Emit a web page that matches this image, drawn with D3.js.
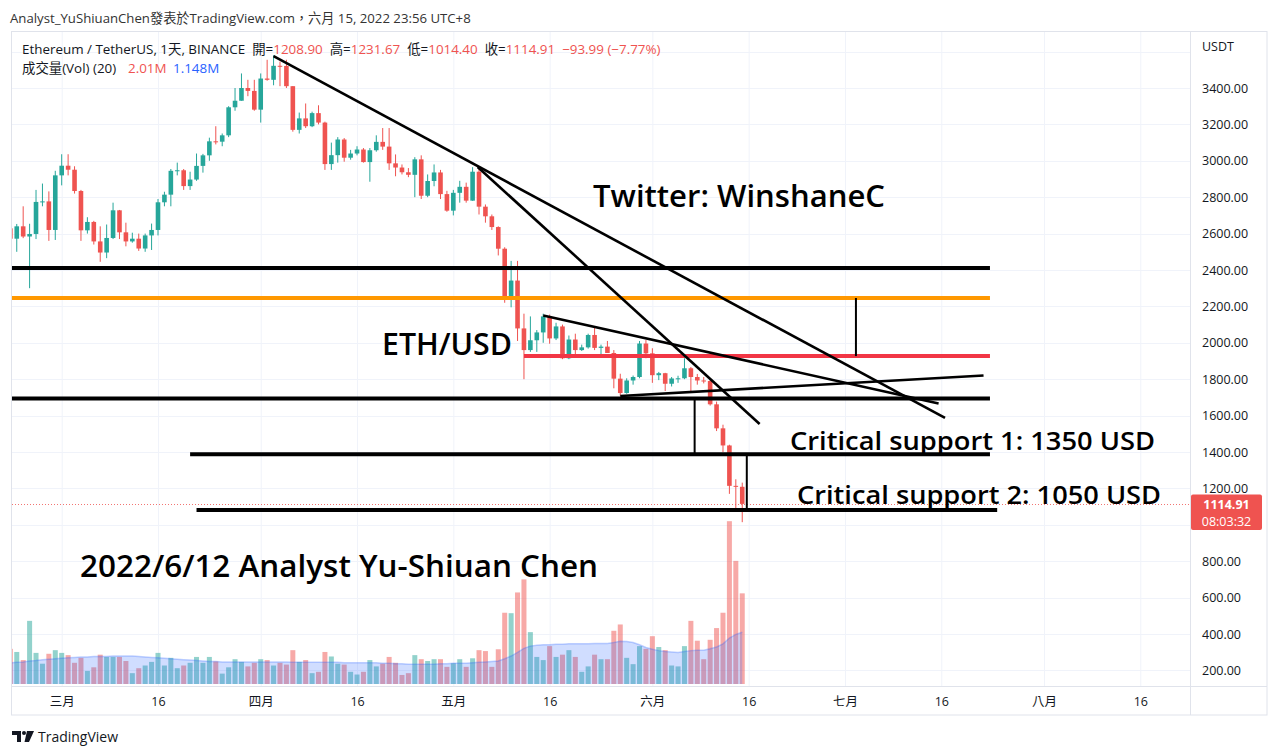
<!DOCTYPE html>
<html><head><meta charset="utf-8">
<script src="https://cdn.jsdelivr.net/npm/d3@7"></script>
<style>
html,body{margin:0;padding:0;background:#fff;}
svg{display:block;}
text{font-family:"Open Sans","Noto Sans","Noto Sans CJK TC",sans-serif;}
</style></head><body>
<svg id="chart" width="1280" height="756"></svg>
<script>
// ---------- DATA ----------
const firstDay = "2022-02-21";
const lastDay = "2022-06-15";
const opens = [2629,2572,2640,2584,2598,2774,2777,2620,
 2920,2973,2951,2834,2618,2664,2557,2496,2576,2728,
 2607,2557,2572,2518,2590,2620,2772,2814,2945,2948,
 2861,2897,2972,3030,3107,3105,3140,3294,3330,3400,3384,
 3281,3452,3445,3522,3521,3410,3170,3233,3190,3262,
 3210,2982,3031,3117,3017,3040,3062,2993,3058,3104,
 3078,2986,2963,2937,2923,3008,2808,2889,2936,2817,
 2726,2824,2857,2781,2940,2748,2695,2636,2517,2245,
 2342,2079,1960,2014,2057,2145,2024,2090,1915,2018,
 1960,1975,2043,1972,1979,1944,1803,1724,1793,1812,1996,
 1942,1822,1833,1775,1804,1805,1860,1812,1793,1790,1662,1530,1436,1214,1208.9];
const highs = [2760,2653,2750,2654,2840,2875,2832,2945,
 3036,3036,2970,2840,2690,2670,2640,2650,2770,2730,
 2660,2605,2600,2600,2655,2790,2830,2955,2990,2955,
 2940,3040,3038,3127,3190,3150,3300,3400,3480,3445,3445,
 3480,3555,3580,3545,3555,3410,3265,3315,3270,3305,
 3215,3100,3130,3125,3060,3080,3070,3070,3140,3180,
 3180,3035,2980,2960,3020,3030,2925,2980,2950,2835,
 2840,2890,2880,2965,2955,2760,2705,2640,2525,2450,
 2450,2160,2145,2070,2160,2155,2110,2100,2040,2050,
 1990,2050,2085,1990,2010,1960,1830,1805,1820,2010,2015,
 1970,1840,1835,1812,1819,1915,1867,1829,1812,1800,1677,1550,1440,1250,1231.67];
const lows = [2570,2500,2575,2300,2570,2750,2560,2565,
 2865,2920,2820,2560,2600,2540,2445,2465,2570,2570,
 2530,2550,2505,2500,2510,2590,2750,2750,2920,2840,
 2840,2890,2935,3000,3090,3080,3130,3275,3330,3355,3275,
 3210,3440,3415,3410,3400,3160,3150,3180,3185,3200,
 2950,2950,2990,2995,3006,3030,2990,2885,3050,3060,
 2950,2915,2925,2910,2800,2790,2800,2860,2790,2720,
 2700,2770,2770,2780,2705,2660,2620,2480,2220,2195,
 2010,1800,1950,1950,2000,1995,2015,1910,1910,1930,
 1955,1968,1960,1925,1945,1750,1710,1720,1770,1805,1915,
 1780,1795,1735,1760,1780,1800,1733,1770,1777,1655,1515,1400,1170,1075,1014.4];
const closes = [2572,2640,2584,2598,2774,2777,2620,2920,
 2973,2951,2834,2618,2664,2557,2496,2576,2728,2607,
 2557,2572,2518,2590,2620,2772,2814,2945,2948,2861,
 2897,2972,3030,3107,3105,3140,3294,3330,3400,3384,3281,
 3452,3445,3522,3521,3410,3170,3233,3190,3262,3210,
 2982,3031,3117,3017,3040,3062,2993,3058,3104,3078,
 2986,2963,2937,2923,3008,2808,2889,2936,2817,2726,
 2824,2857,2781,2940,2748,2695,2636,2517,2245,2342,
 2079,1960,2014,2057,2145,2024,2090,1915,2018,1960,
 1975,2043,1972,1979,1944,1803,1724,1793,1812,1996,1942,
 1822,1833,1775,1804,1805,1860,1812,1793,1790,1662,1530,1436,1214,1208.9,1114.91];
// volume in millions
const volumes = [0.78,0.71,0.53,1.40,0.69,0.45,0.67,0.75,
 0.69,0.64,0.47,0.58,0.29,0.37,0.65,0.60,0.60,0.60,
 0.51,0.24,0.35,0.41,0.49,0.69,0.41,0.58,0.35,0.41,
 0.47,0.60,0.47,0.60,0.50,0.23,0.37,0.55,0.49,0.39,0.47,
 0.55,0.53,0.41,0.47,0.43,0.75,0.49,0.53,0.24,0.27,
 0.71,0.61,0.45,0.43,0.27,0.21,0.27,0.53,0.39,0.45,
 0.60,0.47,0.20,0.24,0.64,0.55,0.51,0.55,0.55,0.38,
 0.46,0.55,0.38,0.57,0.75,0.73,0.38,0.77,1.58,1.57,
 2.03,2.32,1.15,0.60,0.53,0.84,0.60,0.65,0.75,0.60,
 0.27,0.39,0.65,0.55,0.55,1.18,1.32,0.58,0.44,0.84,0.78,
 1.06,0.82,0.75,0.41,0.39,0.84,1.40,0.96,0.55,0.98,1.24,1.58,3.61,2.73,2.01];
// 20-day volume MA (millions)
const volumeMA = [0.47,0.48,0.49,0.51,0.52,0.54,0.55,0.56,
 0.57,0.58,0.59,0.60,0.60,0.61,0.61,0.61,0.62,0.62,
 0.62,0.62,0.61,0.60,0.59,0.58,0.57,0.56,0.55,0.54,
 0.53,0.52,0.51,0.50,0.50,0.49,0.49,0.49,0.49,0.49,0.49,
 0.49,0.49,0.49,0.49,0.49,0.48,0.48,0.48,0.48,0.48,
 0.48,0.48,0.48,0.47,0.47,0.47,0.47,0.47,0.47,0.46,
 0.46,0.45,0.45,0.44,0.44,0.44,0.44,0.44,0.45,0.45,
 0.46,0.46,0.46,0.47,0.48,0.49,0.50,0.51,0.56,0.62,
 0.70,0.79,0.84,0.86,0.87,0.87,0.88,0.88,0.89,0.89,
 0.89,0.89,0.90,0.90,0.90,0.92,0.95,0.94,0.92,0.87,0.81,
 0.77,0.74,0.72,0.71,0.70,0.72,0.74,0.75,0.75,0.78,0.82,0.89,1.02,1.10,1.148];

const gridPrices = [200,400,600,800,1000,1200,1400,1600,1800,2000,2200,2400,2600,2800,3000,3200,3400,3600];
const priceTickLabels = [200,400,600,800,1200,1400,1600,1800,2000,2200,2400,2600,2800,3000,3200,3400];
const dateTicks = ["2022-03-01","2022-03-16","2022-04-01","2022-04-16","2022-05-01","2022-05-16","2022-06-01","2022-06-16","2022-07-01","2022-07-16","2022-08-01","2022-08-16"];
const dateTickLabels = ["三月","16","四月","16","五月","16","六月","16","七月","16","八月","16"];

// Drawings (data coordinates)
const levelPrices = [2411, 2246, 1927, 1694, 1387, 1081];
const levelStarts = ["2022-02-01","2022-02-01","2022-05-12","2022-02-01","2022-03-21","2022-03-22"];
const levelEnds = ["2022-07-23T14:00Z","2022-07-23T14:00Z","2022-07-23T14:00Z","2022-07-23T14:00Z","2022-07-23T14:00Z","2022-07-24T17:00Z"];
const trendStarts = [["2022-04-03T00:00Z",3575],["2022-05-04T19:00Z",2966],["2022-05-15T00:00Z",2150],["2022-05-27T00:00Z",1708]];
const trendEnds = [["2022-07-16T14:00Z",1587],["2022-06-17T17:00Z",1554],["2022-07-15T14:00Z",1666],["2022-07-22T14:00Z",1820]];
const connectorDates = ["2022-07-02T17:00Z","2022-06-07T14:00Z","2022-06-15T17:00Z"];
const connectorTop = [2246, 1694, 1387];
const connectorBottom = [1927, 1387, 1081];

const lastPrice = 1114.91;

// ---------- LAYOUT ----------
const svg = d3.select("#chart");
const P = {left: 12, right: 1190, top: 32, bottom: 686};
const parse = s => new Date(s.length === 10 ? s + "T00:00:00Z" : s);
const dates = d3.utcDay.range(parse(firstDay), d3.utcDay.offset(parse(lastDay), 1));
const bars = dates.map((d, i) => ({date: d, o: opens[i], h: highs[i], l: lows[i], c: closes[i], v: volumes[i], ma: volumeMA[i]}));

const x = d3.scaleUtc().domain([parse("2022-03-01"), parse("2022-08-16")]).range([61.7, 1140.3]);
const y = d3.scaleLinear().domain([3400, 200]).range([88, 670.4]);
const vy = d3.scaleLinear().domain([0, 4]).range([684, 684 - 4 * 45.1]);

const UP = "#26a69a", DOWN = "#ef5350";
const GRID = "#f0f3fa", BORDER = "#e0e3eb", TXT = "#131722";

svg.append("rect").attr("width", 1280).attr("height", 756).attr("fill", "#fff");

const defs = svg.append("defs");
defs.append("clipPath").attr("id", "plot").append("rect")
  .attr("x", P.left).attr("y", P.top).attr("width", P.right - P.left).attr("height", P.bottom - P.top);

// title
svg.append("text").attr("x", 10).attr("y", 23).attr("font-size", 13.2).attr("fill", "#333")
  .text("Analyst_YuShiuanChen發表於TradingView.com，六月 15, 2022 23:56 UTC+8");

const plot = svg.append("g").attr("clip-path", "url(#plot)");

// grid
plot.append("g").selectAll("line").data(dateTicks).join("line")
  .attr("x1", d => x(parse(d)) + 0.5).attr("x2", d => x(parse(d)) + 0.5)
  .attr("y1", P.top).attr("y2", P.bottom).attr("stroke", GRID).attr("stroke-width", 1);
plot.append("g").selectAll("line").data(gridPrices).join("line")
  .attr("x1", P.left).attr("x2", P.right)
  .attr("y1", d => Math.round(y(d)) + 0.5).attr("y2", d => Math.round(y(d)) + 0.5)
  .attr("stroke", GRID).attr("stroke-width", 1);

// volume bars
plot.append("g").selectAll("rect").data(bars).join("rect")
  .attr("x", d => x(d.date) - 2.5).attr("width", 5)
  .attr("y", d => vy(d.v)).attr("height", d => vy(0) - vy(d.v))
  .attr("fill", d => d.c >= d.o ? "rgba(38,166,154,0.5)" : "rgba(239,83,80,0.5)");

// volume MA area
plot.append("path").datum(bars)
  .attr("d", d3.area().x(d => x(d.date)).y0(vy(0)).y1(d => vy(d.ma)))
  .attr("fill", "rgba(41,98,255,0.22)");
plot.append("path").datum(bars)
  .attr("d", d3.line().x(d => x(d.date)).y(d => vy(d.ma)))
  .attr("fill", "none").attr("stroke", "rgba(41,98,255,0.28)").attr("stroke-width", 1.5);

// candles
const cg = plot.append("g");
cg.selectAll("line").data(bars).join("line")
  .attr("x1", d => x(d.date)).attr("x2", d => x(d.date))
  .attr("y1", d => y(d.h)).attr("y2", d => y(d.l))
  .attr("stroke", d => d.c >= d.o ? UP : DOWN).attr("stroke-width", 1);
cg.selectAll("rect").data(bars).join("rect")
  .attr("x", d => x(d.date) - 2.3).attr("width", 4.6)
  .attr("y", d => y(Math.max(d.o, d.c)))
  .attr("height", d => Math.max(1, Math.abs(y(d.o) - y(d.c))))
  .attr("fill", d => d.c >= d.o ? UP : DOWN);

// last price dotted line
plot.append("line").attr("x1", P.left).attr("x2", P.right)
  .attr("y1", Math.round(y(lastPrice)) + 0.5).attr("y2", Math.round(y(lastPrice)) + 0.5)
  .attr("stroke", DOWN).attr("stroke-width", 1).attr("stroke-dasharray", "1,2").attr("opacity", 0.8);

// horizontal levels
const levelColors = ["#000", "#ff9800", "#f23645", "#000", "#000", "#000"];
plot.append("g").selectAll("line").data(levelPrices).join("line")
  .attr("x1", (d, i) => x(parse(levelStarts[i]))).attr("x2", (d, i) => x(parse(levelEnds[i])))
  .attr("y1", d => y(d)).attr("y2", d => y(d))
  .attr("stroke", (d, i) => levelColors[i]).attr("stroke-width", 4);

// trend lines
plot.append("g").selectAll("line").data(trendStarts).join("line")
  .attr("x1", d => x(parse(d[0]))).attr("y1", d => y(d[1]))
  .attr("x2", (d, i) => x(parse(trendEnds[i][0]))).attr("y2", (d, i) => y(trendEnds[i][1]))
  .attr("stroke", "#000").attr("stroke-width", 2.6).attr("stroke-linecap", "butt");

// vertical connectors
plot.append("g").selectAll("line").data(connectorDates).join("line")
  .attr("x1", d => x(parse(d))).attr("x2", d => x(parse(d)))
  .attr("y1", (d, i) => y(connectorTop[i])).attr("y2", (d, i) => y(connectorBottom[i]))
  .attr("stroke", "#000").attr("stroke-width", 2);

// annotation texts
const notes = [
  {t: "Twitter: WinshaneC", x: 593, y: 207, s: 31, w: 292},
  {t: "ETH/USD", x: 382, y: 355, s: 31, w: 130},
  {t: "2022/6/12 Analyst Yu-Shiuan Chen", x: 80, y: 577, s: 31, w: 518},
  {t: "Critical support 1: 1350 USD", x: 790, y: 450, s: 25, w: 365},
  {t: "Critical support 2: 1050 USD", x: 797, y: 504, s: 25, w: 364}
];
svg.append("g").selectAll("text").data(notes).join("text")
  .attr("x", d => d.x).attr("y", d => d.y).attr("font-size", d => d.s)
  .attr("font-weight", 600).attr("fill", "#000")
  .attr("textLength", d => d.w).attr("lengthAdjust", "spacingAndGlyphs")
  .text(d => d.t);

// legend
const leg1 = svg.append("text").attr("x", 22).attr("y", 54).attr("font-size", 13.4).attr("fill", TXT)
  .style("white-space", "pre");
[["Ethereum / TetherUS, 1天, BINANCE  ", TXT], ["開=", TXT], ["1208.90", DOWN], ["  高=", TXT], ["1231.67", DOWN],
 ["  低=", TXT], ["1014.40", DOWN], ["  收=", TXT], ["1114.91", DOWN], ["  −93.99 (−7.77%)", DOWN]]
  .forEach(([s, c]) => leg1.append("tspan").attr("fill", c).text(s));
const leg2 = svg.append("text").attr("y", 73).attr("font-size", 13.4).attr("fill", TXT);
leg2.append("tspan").attr("x", 22).attr("fill", TXT).text("成交量(Vol) (20)");
leg2.append("tspan").attr("x", 128).attr("fill", DOWN).text("2.01M");
leg2.append("tspan").attr("x", 173).attr("fill", "#2962ff").text("1.148M");

// frame & separators
svg.append("rect").attr("x", 11.5).attr("y", 31.5).attr("width", 1255.5).attr("height", 683.5)
  .attr("fill", "none").attr("stroke", BORDER);
svg.append("line").attr("x1", 1190.5).attr("x2", 1190.5).attr("y1", 32).attr("y2", 715).attr("stroke", BORDER);
svg.append("line").attr("x1", 12).attr("x2", 1267).attr("y1", 686.5).attr("y2", 686.5).attr("stroke", BORDER);

// price axis
const yAxis = d3.axisRight(y).tickValues(priceTickLabels).tickFormat(d3.format(".2f")).tickSize(0).tickPadding(12);
const ya = svg.append("g").attr("transform", "translate(1190,0)").call(yAxis);
ya.select(".domain").remove();
ya.selectAll("text").attr("font-size", 12.5).attr("fill", TXT).attr("font-family", "'Open Sans',sans-serif");
svg.append("text").attr("x", 1202).attr("y", 50.5).attr("font-size", 12.5).attr("fill", TXT).text("USDT");

// date axis
const xAxis = d3.axisBottom(x).tickValues(dateTicks.map(parse))
  .tickFormat((d, i) => dateTickLabels[i]).tickSize(0).tickPadding(11);
const xa = svg.append("g").attr("transform", `translate(0,${P.bottom})`).call(xAxis);
xa.select(".domain").remove();
xa.selectAll("text").attr("font-size", 12.5).attr("fill", TXT).attr("font-family", "'Open Sans','Noto Sans CJK TC',sans-serif");

// last price label
svg.append("rect").attr("x", 1191).attr("y", 494.5).attr("width", 71).attr("height", 35.5).attr("rx", 2).attr("fill", DOWN);
svg.append("text").attr("x", 1226.5).attr("y", 508.5).attr("text-anchor", "middle").attr("font-size", 12.5)
  .attr("font-weight", 700).attr("fill", "#fff").text(d3.format(".2f")(lastPrice));
svg.append("text").attr("x", 1226.5).attr("y", 525.5).attr("text-anchor", "middle").attr("font-size", 12.5)
  .attr("fill", "#fff").text("08:03:32");

// footer logo
const logo = svg.append("g").attr("fill", "#131722");
logo.append("path").attr("d", "M12,731 H21 V742 H17 V735 H12 Z");
logo.append("circle").attr("cx", 24).attr("cy", 733).attr("r", 2);
logo.append("path").attr("d", "M27,731 H34 L29,742 H24.5 Z");
svg.append("text").attr("x", 38).attr("y", 742).attr("font-size", 15).attr("fill", "#131722")
  .attr("textLength", 80).attr("lengthAdjust", "spacingAndGlyphs").text("TradingView");
</script>
</body></html>
